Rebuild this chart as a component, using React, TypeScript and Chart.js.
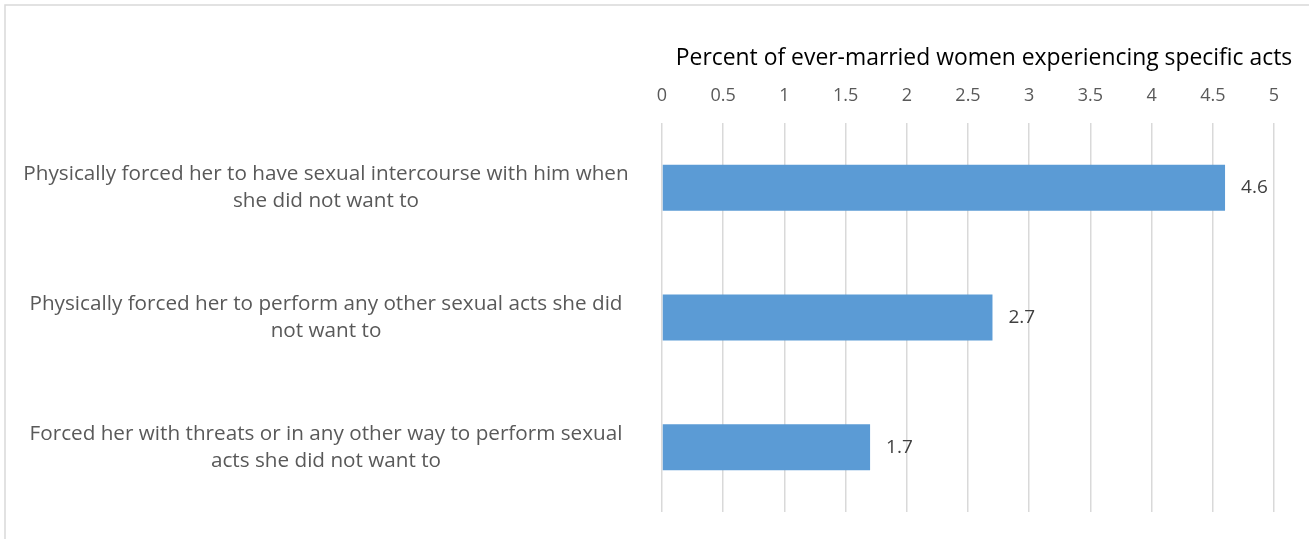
import React, { useEffect, useRef } from "react";
import { Chart, registerables } from "chart.js";

Chart.register(...registerables);

const categories: string[][] = [
  ["Physically forced her to have sexual intercourse with him when", "she did not want to"],
  ["Physically forced her to perform any other sexual acts she did", "not want to"],
  ["Forced her with threats or in any other way to perform sexual", "acts she did not want to"],
];
const values: number[] = [4.6, 2.7, 1.7];
const axisTitle = "Percent of ever-married women experiencing specific acts";
const xMin = 0;
const xMax = 5;
const xStep = 0.5;

const FONT = "'Open Sans'";
const LABEL_SIZE = 20.7;
const CHART_LEFT = 662;
const CHART_TOP = 123;
const LABEL_CENTER = 326;
const TITLE_CENTER_X = 984;
const TITLE_CENTER_Y = 58;

export default function App() {
  const ref = useRef<HTMLCanvasElement | null>(null);

  useEffect(() => {
    const canvas = ref.current;
    if (!canvas) return;

    const mctx = document.createElement("canvas").getContext("2d")!;
    mctx.font = `${LABEL_SIZE}px ${FONT}`;
    let widest = 0;
    categories.forEach((lines) =>
      lines.forEach((l) => {
        widest = Math.max(widest, mctx.measureText(l).width);
      })
    );
    const padLeft = 8;
    const padTop = 40;
    const tickPad = CHART_LEFT - LABEL_CENTER - widest / 2;

    const borderPlugin = {
      id: "frame",
      beforeDraw(chart: any) {
        const c = chart.ctx;
        c.save();
        c.strokeStyle = "#d9d9d9";
        c.lineWidth = 1.5;
        c.strokeRect(5, 5, chart.width + 20, chart.height + 20);
        c.restore();
      },
    };

    const titlePlugin = {
      id: "axisTitle",
      afterDraw(chart: any) {
        const c = chart.ctx;
        c.save();
        c.font = `22.9px ${FONT}`;
        c.fillStyle = "#000000";
        c.textAlign = "center";
        c.textBaseline = "middle";
        c.fillText(axisTitle, TITLE_CENTER_X, TITLE_CENTER_Y);
        c.restore();
      },
    };

    const valueLabels = {
      id: "valueLabels",
      afterDatasetsDraw(chart: any) {
        const c = chart.ctx;
        const meta = chart.getDatasetMeta(0);
        c.save();
        c.font = `19px ${FONT}`;
        c.fillStyle = "#404040";
        c.textAlign = "left";
        c.textBaseline = "middle";
        meta.data.forEach((bar: any, i: number) => {
          c.fillText(String(values[i]), bar.x + 16, bar.y);
        });
        c.restore();
      },
    };

    const chart = new Chart(canvas, {
      type: "bar",
      data: {
        labels: categories,
        datasets: [
          {
            data: values,
            backgroundColor: "#5b9bd5",
            borderWidth: 0,
            barPercentage: 0.71,
            categoryPercentage: 0.5,
          },
        ],
      },
      options: {
        indexAxis: "y",
        animation: false,
        responsive: false,
        maintainAspectRatio: false,
        layout: { padding: { left: padLeft, right: 35, top: padTop, bottom: 27 } },
        plugins: {
          legend: { display: false },
          tooltip: { enabled: false },
        },
        scales: {
          x: {
            position: "top",
            min: xMin,
            max: xMax,
            border: { display: false },
            grid: { color: "#d9d9d9", lineWidth: 1.5, drawTicks: false },
            afterFit(scale: any) {
              scale.height = CHART_TOP - padTop;
              scale.paddingLeft = 0;
              scale.paddingRight = 0;
            },
            ticks: {
              stepSize: xStep,
              padding: 16,
              color: "#595959",
              font: { family: FONT, size: 18 },
              callback: (v: any) => String(Number(v)),
            },
          },
          y: {
            border: { display: false },
            grid: { display: false, drawTicks: false },
            afterFit(scale: any) {
              scale.width = CHART_LEFT - padLeft;
              scale.paddingTop = 0;
              scale.paddingBottom = 0;
            },
            ticks: {
              crossAlign: "center",
              padding: tickPad,
              color: "#595959",
              font: { family: FONT, size: LABEL_SIZE, lineHeight: 1.31 },
            },
          },
        },
      },
      plugins: [borderPlugin, valueLabels, titlePlugin],
    });

    return () => chart.destroy();
  }, []);

  return (
    <div style={{ position: "absolute", left: 0, top: 0, width: 1309, height: 539 }}>
      <canvas ref={ref} width={1309} height={539} style={{ display: "block" }} />
    </div>
  );
}
